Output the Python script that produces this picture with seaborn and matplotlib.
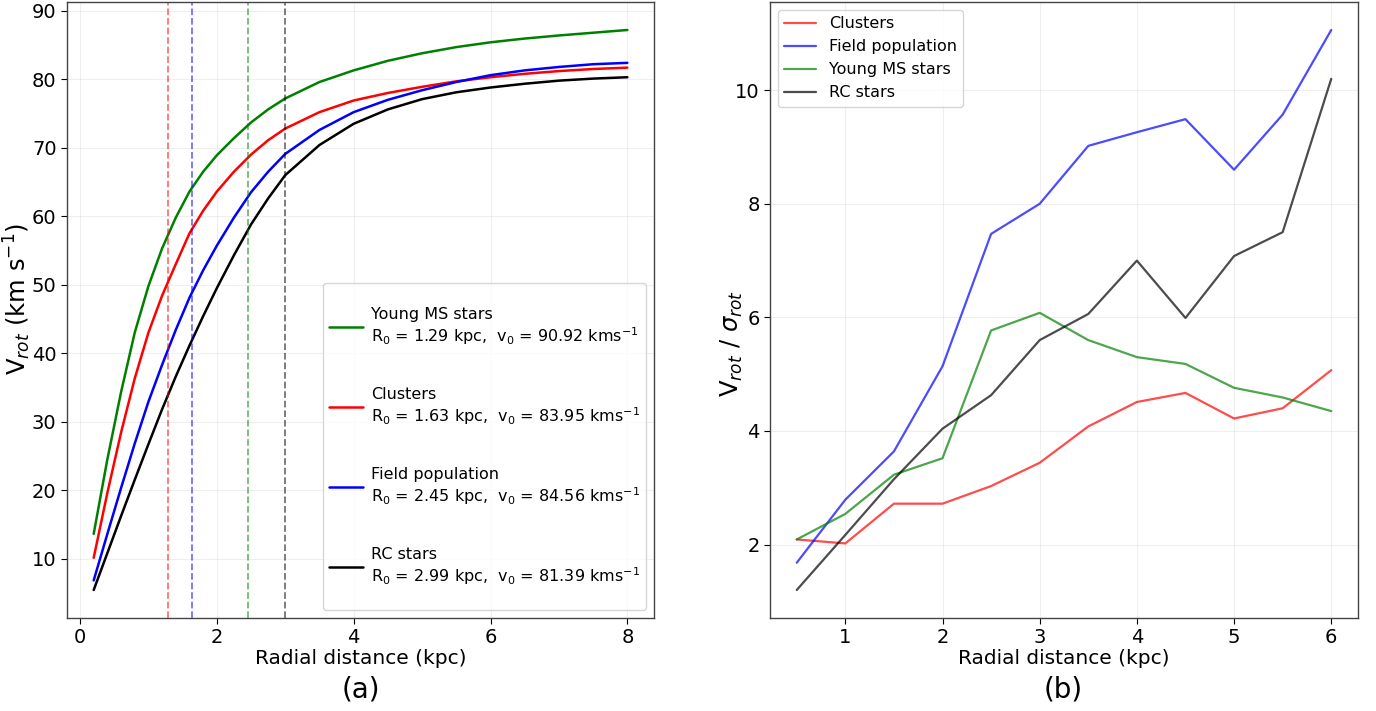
import numpy as np
import pandas as pd
import matplotlib
matplotlib.use("Agg")
import matplotlib.pyplot as plt
from matplotlib.patches import BoxStyle
import seaborn as sns

# ---------------- Panel (a): rotation curves -------------
r_curve = [0.2, 0.4, 0.6, 0.8, 1.0, 1.2, 1.4, 1.6, 1.8, 2.0, 2.25, 2.5, 2.75,
           3.0, 3.5, 4.0, 4.5, 5.0, 5.5, 6.0, 6.5, 7.0, 7.5, 8.0]
v_young = [13.6, 24.5, 34.3, 43.0, 49.8, 55.3, 59.8, 63.6, 66.5, 68.9, 71.4, 73.7, 75.6,
           77.2, 79.6, 81.3, 82.7, 83.8, 84.7, 85.4, 85.95, 86.4, 86.8, 87.2]
v_clusters = [10.1, 19.6, 28.4, 36.3, 43.0, 48.4, 53.0, 57.5, 60.8, 63.6, 66.5, 69.0, 71.1,
              72.8, 75.2, 76.9, 78.0, 78.9, 79.7, 80.3, 80.8, 81.2, 81.5, 81.7]
v_field = [6.8, 13.6, 20.3, 26.8, 32.9, 38.3, 43.4, 48.1, 52.1, 55.7, 59.8, 63.5, 66.5,
           69.1, 72.6, 75.2, 77.0, 78.4, 79.6, 80.6, 81.3, 81.8, 82.2, 82.4]
v_rc = [5.4, 10.8, 16.2, 21.5, 26.7, 31.8, 36.6, 41.1, 45.4, 49.5, 54.3, 58.8, 62.6,
        66.0, 70.4, 73.5, 75.6, 77.1, 78.1, 78.8, 79.35, 79.8, 80.1, 80.3]

pop_names_a = ["Young MS stars", "Clusters", "Field population", "RC stars"]
r0_vals = [1.29, 1.63, 2.45, 2.99]
v0_vals = [90.92, 83.95, 84.56, 81.39]
colors_a = ["green", "red", "blue", "black"]
# dashed marker lines (position, colour) as drawn in the reference
vline_pos = [1.29, 1.63, 2.45, 2.99]
vline_colors = ["red", "blue", "green", "black"]

# ---------------- Panel (b): V/sigma ratio -------------------------------------------
r_bins = [0.5, 1.0, 1.5, 2.0, 2.5, 3.0, 3.5, 4.0, 4.5, 5.0, 5.5, 6.0]
ratio_clusters = [2.09, 2.02, 2.72, 2.72, 3.03, 3.44, 4.08, 4.51, 4.67, 4.22, 4.40, 5.07]
ratio_field = [1.68, 2.79, 3.64, 5.14, 7.47, 8.00, 9.02, 9.26, 9.49, 8.60, 9.57, 11.06]
ratio_young = [2.09, 2.54, 3.23, 3.52, 5.77, 6.08, 5.60, 5.30, 5.18, 4.76, 4.59, 4.35]
ratio_rc = [1.20, 2.17, 3.15, 4.04, 4.63, 5.60, 6.06, 7.00, 5.99, 7.08, 7.50, 10.20]
pop_names_b = ["Clusters", "Field population", "Young MS stars", "RC stars"]
colors_b = ["red", "blue", "green", "black"]

sns.set_style("white")
plt.rcParams['font.family'] = ['DejaVu Sans']
plt.rcParams['text.color'] = 'black'
plt.rcParams['axes.labelcolor'] = 'black'
plt.rcParams['xtick.color'] = 'black'
plt.rcParams['ytick.color'] = 'black'

fig = plt.figure(figsize=(13.76, 7.11), dpi=100)
ax1 = fig.add_axes([0.0487, 0.1308, 0.4266, 0.8664])
ax2 = fig.add_axes([0.5596, 0.1308, 0.4273, 0.8664])

curves = [v_young, v_clusters, v_field, v_rc]
for name, vals, r0, v0, c in zip(pop_names_a, curves, r0_vals, v0_vals, colors_a):
    label = f"{name}\n$\\mathregular{{R_0}}$ = {r0:.2f} kpc,  $\\mathregular{{v_0}}$ = {v0:.2f} kms$^{{-1}}$"
    sns.lineplot(x=r_curve, y=vals, color=c, lw=1.8, ax=ax1, label=label)
for xv, c in zip(vline_pos, vline_colors):
    ax1.axvline(xv, color=c, ls="--", lw=1.3, alpha=0.55)

ax1.grid(True, alpha=0.3)
ax1.set_xlabel("Radial distance (kpc)", fontsize=14.5, labelpad=1)
ax1.set_ylabel(r"V$_{rot}$ (km s$^{-1}$)", fontsize=17.5)
ax1.yaxis.set_label_coords(-0.058, 0.518)
ax1.tick_params(labelsize=14, length=4, direction="out", bottom=True, left=True)
ax1.set_yticks([10, 20, 30, 40, 50, 60, 70, 80, 90])
ax1.set_xticks([0, 2, 4, 6, 8])

extra_pad = 17.0  # extra vertical frame padding in pixels


def tall_round(x0, y0, width, height, mutation_size):
    return BoxStyle.Round(pad=0, rounding_size=0.2)(
        x0, y0 - extra_pad, width, height + 2 * extra_pad, mutation_size)


ax_h_px = 0.8664 * 711
leg1 = ax1.legend(loc="lower right", fontsize=11.5, labelspacing=2.5, handlelength=2.1,
                  borderpad=0.4, handletextpad=0.5,
                  bbox_to_anchor=(1.0, extra_pad / ax_h_px))
leg1.get_frame().set_boxstyle(tall_round)

ratios = [ratio_clusters, ratio_field, ratio_young, ratio_rc]
for name, vals, c in zip(pop_names_b, ratios, colors_b):
    sns.lineplot(x=r_bins, y=vals, color=c, lw=1.6, alpha=0.7, ax=ax2, label=name)
ax2.grid(True, alpha=0.3)
ax2.set_xlabel("Radial distance (kpc)", fontsize=14.5, labelpad=1)
ax2.set_ylabel(r"V$_{rot}$ / $\sigma_{rot}$", fontsize=17.5)
ax2.yaxis.set_label_coords(-0.042, 0.446)
ax2.tick_params(labelsize=14, length=4, direction="out", bottom=True, left=True)
ax2.set_yticks([2, 4, 6, 8, 10])
ax2.set_xticks([1, 2, 3, 4, 5, 6])
ax2.legend(loc="upper left", fontsize=11.5, labelspacing=0.5, borderpad=0.4)

for ax in (ax1, ax2):
    for s in ax.spines.values():
        s.set_color("#444444")
        s.set_linewidth(1.0)

fig.text(0.262, 0.03, "(a)", ha="center", va="center", fontsize=20)
fig.text(0.773, 0.03, "(b)", ha="center", va="center", fontsize=20)

fig.savefig("out.png", dpi=100)
